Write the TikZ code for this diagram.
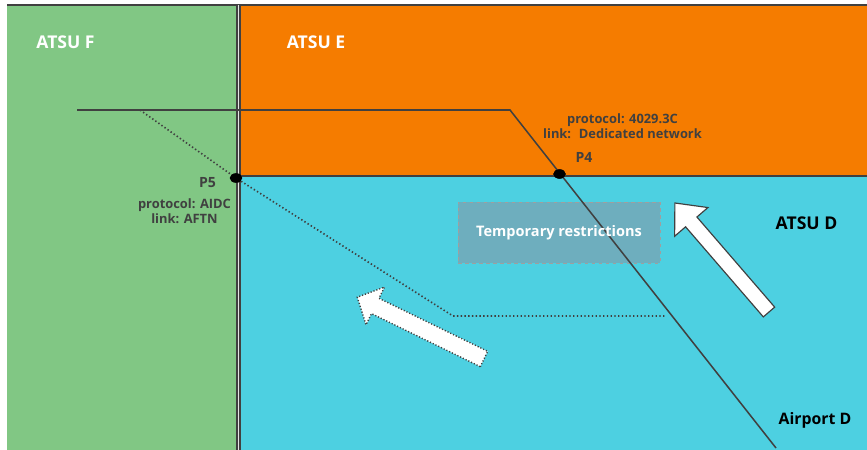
\documentclass[tikz,border=0pt]{standalone}
\usepackage{fontspec}
\setmainfont{Open Sans}
\usetikzlibrary{positioning,shapes.geometric}
\definecolor{atsufc}{RGB}{129,199,132}
\definecolor{atsuec}{RGB}{245,124,0}
\definecolor{atsudc}{RGB}{77,208,225}
\definecolor{restrc}{RGB}{110,174,190}
\definecolor{edgec}{RGB}{64,64,64}
\tikzset{
  zone/.style={font=\fontsize{15}{18}\selectfont\bfseries, inner sep=0pt},
  ptdot/.style={ellipse, fill=black, inner sep=0pt, minimum width=3.7mm, minimum height=2.8mm},
  ptlabel/.style={font=\fontsize{12}{14}\selectfont\bfseries, text=edgec, inner sep=0pt},
  info/.style={font=\fontsize{11}{13}\selectfont\bfseries, text=edgec, align=center, inner sep=0pt},
  route/.style={line width=1.3pt, draw=edgec},
  handoff/.style={line width=1.4pt, draw=edgec, dash pattern=on 1.2pt off 2pt},
  border/.style={line width=1.6pt, draw=edgec},
  restrbox/.style={draw=gray!75, dashed, fill=restrc, minimum width=6.06cm, minimum height=1.83cm},
  restrtext/.style={font=\fontsize{12.4}{15}\selectfont\bfseries, text=white, inner sep=0pt},
  bigarrow/.style={fill=white, draw=edgec, line width=1pt},
  dotarrow/.style={fill=white, draw=edgec, line width=1.2pt, dash pattern=on 1pt off 1.6pt}
}

\begin{document}
\begin{tikzpicture}[x=0.03cm, y=-0.03cm]
  \useasboundingbox (0,0) rectangle (867,450);
  \fill[atsufc] (7,5) rectangle (238,450);
  \fill[atsuec] (238,5) rectangle (867,176);
  \fill[atsudc] (238,176) rectangle (867,450);
  \draw[border] (7,5) -- (867,5);
  \draw[border] (240,176) -- (867,176);
  \draw[line width=1.2pt, draw=edgec, double=gray!20, double distance=1.6pt] (238.5,5) -- (238.5,450);

  \node[zone, text=white] (atsuF) at (65.5,42) {ATSU F};
  \node[zone, text=white] (atsuE) at (316,42) {ATSU E};
  \node[zone] (atsuD) at (806.5,223.5) {ATSU D};
  \node[zone, font=\fontsize{13.5}{16}\selectfont\bfseries] (airportD) at (815,420) {Airport D};

  \node[restrbox] (restr) at (559,232.5) {};

  \coordinate (rtstart) at (77,110);
  \coordinate (rtturn) at (510,110);
  \coordinate (rtend) at (776,448);
  \coordinate (hostart) at (140,110);
  \coordinate (hobend) at (453,316);
  \coordinate (hoend) at (666,316);
  \node[ptdot] (p5) at (236,178) {};
  \node[ptdot] (p4) at (559.5,174) {};

  \draw[route] (rtstart) -- (rtturn) -- (rtend);
  \draw[handoff] (hostart) -- (p5.center) -- (hobend) -- (hoend);
  \node[ptdot] at (p5) {};
  \node[ptdot] at (p4) {};

  \node[restrtext] (restrlbl) at (restr) {Temporary restrictions};

  \node[ptlabel] (p5lbl) at (207.5,183) {P5};
  \node[info] (p5info) at (184.5,211) {protocol: AIDC\\link: AFTN};
  \node[ptlabel] (p4lbl) at (584,157) {P4};
  \node[info] (p4info) at (622.5,126) {protocol: 4029.3C\\link:~ Dedicated network};

  \begin{scope}[shift={(769,312)}, rotate=130.8]
    \draw[bigarrow] (0,-7.5) -- (119,-7.5) -- (119,-22) -- (144,0) -- (119,22) -- (119,7.5) -- (0,7.5) -- cycle;
  \end{scope}
  \begin{scope}[shift={(484,359)}, rotate=154]
    \draw[dotarrow] (0,-8.5) -- (121,-8.5) -- (121,-21) -- (141,0) -- (121,21) -- (121,8.5) -- (0,8.5) -- cycle;
  \end{scope}
\end{tikzpicture}
\end{document}
